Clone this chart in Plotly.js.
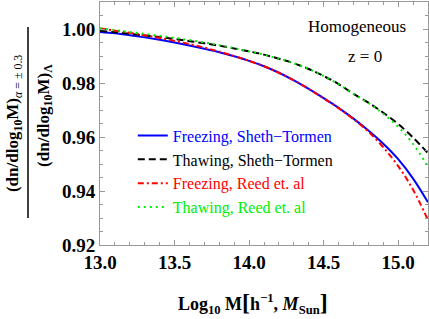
<!DOCTYPE html>
<html>
<head>
<meta charset="utf-8">
<script src="https://cdn.plot.ly/plotly-3.0.1.min.js"></script>
<style>html,body{margin:0;padding:0;background:#fff;} #chart{width:429px;height:319px;}</style>
</head>
<body>
<div id="chart"></div>
<script>
// log10 M values
const logM = [13.0,13.1,13.2,13.3,13.4,13.5,13.6,13.7,13.8,13.9,14.0,14.1,14.2,14.3,14.4,14.5,14.6,14.7,14.8,14.9,15.0,15.1,15.2];
// Freezing, Sheth-Tormen
const freezingST = [0.9989,0.9984,0.9977,0.9969,0.9960,0.9950,0.9939,0.9927,0.9914,0.9899,0.9882,0.9862,0.9838,0.9810,0.9778,0.9744,0.9708,0.9668,0.9624,0.9575,0.9518,0.9446,0.9358];
// Thawing, Sheth-Tormen
const thawingST = [0.9993,0.9988,0.9982,0.9976,0.9970,0.9963,0.9955,0.9947,0.9938,0.9928,0.9917,0.9905,0.9890,0.9873,0.9852,0.9826,0.9796,0.9760,0.9727,0.9690,0.9648,0.9598,0.9540];
// Freezing, Reed et al
const freezingReed = [1.0002,0.9994,0.9986,0.9977,0.9967,0.9956,0.9944,0.9931,0.9916,0.9900,0.9882,0.9862,0.9838,0.9810,0.9778,0.9743,0.9707,0.9666,0.9620,0.9562,0.9492,0.9405,0.9292];
// Thawing, Reed et al
const thawingReed = [1.0003,0.9996,0.9989,0.9982,0.9975,0.9967,0.9959,0.9950,0.9940,0.9929,0.9917,0.9905,0.9890,0.9873,0.9852,0.9826,0.9796,0.9760,0.9726,0.9686,0.9638,0.9574,0.9490];

const names = ['Freezing, Sheth\u2212Tormen','Thawing, Sheth\u2212Tormen','Freezing, Reed et. al','Thawing, Reed et. al'];
const xTickVals = [13.0,13.5,14.0,14.5,15.0];
const yTickVals = [0.92,0.94,0.96,0.98,1.00];

const serif = 'Liberation Serif';
function tr(y, name, color, dash){
  return {x: logM, y: y, type:'scatter', mode:'lines', line:{color:color, width:2, dash:dash, shape:'spline'},
    name:'<span style="color:'+color+'">'+name+'</span>'};
}
const data = [
  tr(freezingST, names[0], '#0000ff', 'solid'),
  tr(thawingST, names[1], '#000000', '7px,4px'),
  tr(freezingReed, names[2], '#ff0000', '6px,3px,2px,3px'),
  tr(thawingReed, names[3], '#00ee00', '2px,4px')
];
function axisCommon(){
  return {showgrid:false, zeroline:false, showline:true, linecolor:'#999', linewidth:1,
  ticks:'inside', ticklen:5, tickcolor:'#999', mirror:'ticks',
  tickfont:{family:serif, size:19, color:'#000', weight:'bold'}};
}
const layout = {
  width:429, height:319,
  font:{family:serif, color:'#000'},
  margin:{l:100, r:1, t:2, b:74},
  paper_bgcolor:'#fff', plot_bgcolor:'#fff',
  showlegend:true,
  legend:{x:0.1, y:0.52, xanchor:'left', yanchor:'top', bgcolor:'rgba(0,0,0,0)',
    font:{family:serif, size:16, color:'#000'}, tracegroupgap:0},
  xaxis: Object.assign(axisCommon(), {range:[13.0,15.2], tickvals:xTickVals, tickformat:'.1f',
    minor:{dtick:0.1, tick0:13.0, ticks:'inside', ticklen:3, tickcolor:'#999'}}),
  yaxis: Object.assign(axisCommon(), {range:[0.92,1.01], tickvals:yTickVals, tickformat:'.2f',
    minor:{dtick:0.005, tick0:0.92, ticks:'inside', ticklen:3, tickcolor:'#999'}}),
  annotations:[
    {xref:'paper', yref:'paper', x:0.784, y:0.90, text:'Homogeneous', showarrow:false,
      font:{family:serif, size:17, color:'#000'}, xanchor:'center', yanchor:'middle'},
    {xref:'paper', yref:'paper', x:0.808, y:0.774, text:'z = 0', showarrow:false,
      font:{family:serif, size:17, color:'#000'}, xanchor:'center', yanchor:'middle'},
    {xref:'paper', yref:'paper', x:0.466, y:-0.24,
      text:'<b>Log<sub>10</sub> M<span style="font-size:24px">[</span>h<sup>\u22121</sup>, <i>M</i><sub>Sun</sub><span style="font-size:24px">]</span></b>',
      showarrow:false, font:{family:serif, size:18, color:'#000'}, xanchor:'center', yanchor:'middle'},
    {xref:'paper', yref:'paper', x:-0.262, y:0.498, textangle:-90,
      text:'<b>(dn/dlog<sub>10</sub>M)</b><sub><i>\u03b1</i> = \u00b1 0.3</sub>',
      showarrow:false, font:{family:serif, size:17, color:'#000'}, xanchor:'center', yanchor:'middle'},
    {xref:'paper', yref:'paper', x:-0.168, y:0.535, textangle:-90,
      text:'<b>(dn/dlog<sub>10</sub>M)<sub>\u039b</sub></b>',
      showarrow:false, font:{family:serif, size:17, color:'#000'}, xanchor:'center', yanchor:'middle'}
  ],
  shapes:[
    {type:'line', xref:'paper', yref:'paper', x0:-0.2195, x1:-0.2195, y0:0.111, y1:0.897,
      line:{color:'#000', width:1.5}}
  ]
};
Plotly.newPlot('chart', data, layout, {displayModeBar:false, staticPlot:true});
</script>
</body>
</html>
